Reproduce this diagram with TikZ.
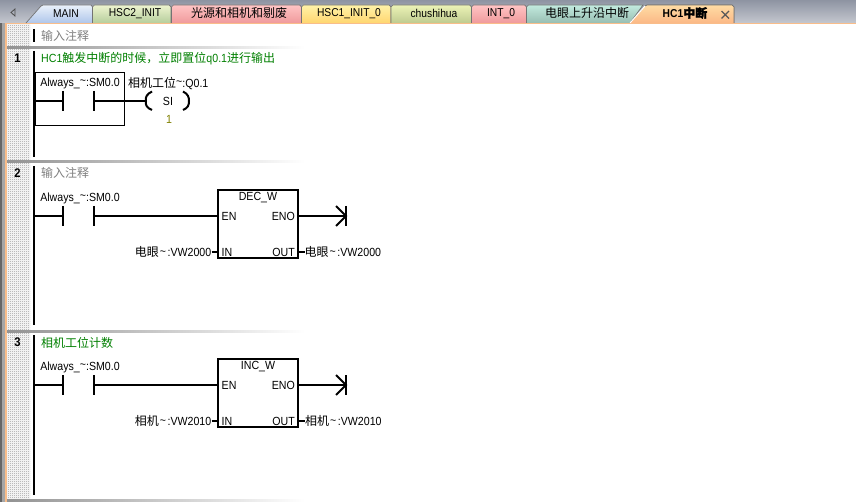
\documentclass[tikz,border=0pt]{standalone}
\usepackage{fontspec}
\setmainfont[FakeStretch=0.9]{Liberation Sans}
\newfontfamily\cjk{Noto Sans CJK SC}
\usetikzlibrary{positioning,patterns}
\pgfdeclarepatternformonly{dithertile}{\pgfqpoint{0pt}{0pt}}{\pgfqpoint{2pt}{2pt}}{\pgfqpoint{2pt}{2pt}}{
  \pgfpathrectangle{\pgfqpoint{0pt}{0pt}}{\pgfqpoint{1pt}{1pt}}
  \pgfpathrectangle{\pgfqpoint{1pt}{1pt}}{\pgfqpoint{1pt}{1pt}}
  \pgfusepath{fill}
}
\definecolor{barT}{HTML}{8E94A2}
\definecolor{barB}{HTML}{C4C7CF}
\definecolor{edgeO}{HTML}{F9BD8A}
\definecolor{dither}{HTML}{989898}
\definecolor{cmtG}{HTML}{808080}
\definecolor{cmtC}{HTML}{008000}
\definecolor{oliveV}{HTML}{808000}
\definecolor{mainT}{HTML}{EAF1FB}\definecolor{mainB}{HTML}{AFC6EA}
\definecolor{hscT}{HTML}{EDF3CF}\definecolor{hscB}{HTML}{B6CE9C}
\definecolor{redT}{HTML}{FFC4C4}\definecolor{redB}{HTML}{F09A9C}
\definecolor{yelT}{HTML}{FFF2A8}\definecolor{yelB}{HTML}{FFD670}
\definecolor{chuT}{HTML}{ECF3B6}\definecolor{chuB}{HTML}{BFCB90}
\definecolor{tealT}{HTML}{C2EADE}\definecolor{tealB}{HTML}{98BEB2}
\definecolor{hcT}{HTML}{FFDCA4}\definecolor{hcB}{HTML}{FBB886}
\tikzset{
  wire/.style={draw,line width=2pt},
  rail/.style={draw,line width=2pt},
  thin box/.style={draw,line width=1pt},
  tabedge/.style={draw=gray!90!black,line width=0.7pt},
  txt/.style={inner sep=0pt,font=\fontsize{11.8}{12}\selectfont},
  tabtxt/.style={inner sep=0pt,font=\fontsize{11.4}{12}\selectfont},
  label left/.style={txt,anchor=east},
  label right/.style={txt,anchor=west},
  fnbox/.style={draw,line width=2pt,minimum width=80pt,minimum height=68pt,inner sep=0pt},
  sepline/.style={left color=gray!85,right color=white,draw=none},
}
\newcommand{\cn}[1]{{\cjk\fontsize{12}{12}\selectfont #1}}
\newcommand{\tld}{\raisebox{1.5pt}{\textasciitilde}}
\begin{document}
\begin{tikzpicture}[x=1pt,y=-1pt]
    \useasboundingbox (0,0) rectangle (856,502);
    % window
    \fill[white] (0,0) rectangle (856,502);
    \fill[top color=barT,bottom color=barB] (0,0) rectangle (856,23);
    \fill[gray!80!black] (0,23) rectangle (2,502);
    \fill[gray!70] (2,23) rectangle (5,502);
    \fill[edgeO] (5,23) rectangle (7,502);
    \fill[pattern=dithertile,pattern color=dither] (7,25) rectangle (30,502);
    \fill[edgeO] (5,23) rectangle (856,24.5);
    \draw[gray!60!black,line width=0.8pt] (15,9) -- (11,12.5) -- (15,16) -- cycle;
    % tabs
    \foreach \xa/\xb/\ctop/\cbot in {92.5/171/hscT/hscB,171.5/301.5/redT/redB,301.5/391/yelT/yelB,391/471.5/chuT/chuB,471.5/526.5/redT/redB}{
      \draw[tabedge,top color=\ctop,bottom color=\cbot] (\xa,23) -- (\xa,7) -- (\xa+2,5) -- (\xb-2,5) -- (\xb,7) -- (\xb,23);
    }
    \draw[tabedge,top color=mainT,bottom color=mainB] (26,23) -- (41,6) -- (43,5) -- (91,5) -- (92.5,7) -- (92.5,23);
    \draw[tabedge,top color=tealT,bottom color=tealB] (526.5,23) -- (526.5,7) -- (528.5,5) -- (643,5) -- (630,23);
    \fill[top color=hcT,bottom color=hcB] (630,23) -- (645,6) -- (647,5) -- (732,5) -- (734,7) -- (734,23) -- cycle;
    \draw[tabedge] (645,6) -- (647,5) -- (732,5) -- (734,7) -- (734,23);
    \draw[white,line width=1pt] (630,23) -- (645,6);
    \node[tabtxt] (tabmain) at (66,13.5) {MAIN};
    \node[tabtxt] (tabhsctwo) at (135,13.5) {HSC2\_INIT};
    \node[tabtxt] (tablight) at (239,13) {\cn{光源和相机和剔废}};
    \node[tabtxt] (tabhscone) at (349,13.5) {HSC1\_INIT\_0};
    \node[tabtxt] (tabchu) at (434,13.5) {chushihua};
    \node[tabtxt] (tabint) at (501,13.5) {INT\_0};
    \node[tabtxt] (tabeye) at (587,13) {\cn{电眼上升沿中断}};
    \node[tabtxt,font=\fontsize{11.4}{12}\selectfont\bfseries] (tabhc) at (685,13) {HC1{\cjk\fontsize{12}{12}\selectfont\addfontfeature{FakeBold=1.5} 中断}};
    \coordinate (xa) at (721.5,11);
    \coordinate (xb) at (729,18.5);
    \coordinate (xc) at (729,11);
    \coordinate (xd) at (721.5,18.5);
    \draw[gray!70!black,line width=1.1pt] (xa) -- (xb) (xc) -- (xd);
    % separators
    \foreach \y in {46.5,161,330,499}{
      \fill[sepline] (7,\y) rectangle (305,\y+2);
    }
    % comments and numbers
    \fill (33,29) rectangle (35,42);
    \node[label right,text=cmtG] (cmttop) at (41,36) {\cn{输入注释}};
    \node[txt,font=\fontsize{12.5}{12}\selectfont\bfseries] (numone) at (17.5,58) {1};
    \node[txt,font=\fontsize{12.5}{12}\selectfont\bfseries] (numtwo) at (17.5,173) {2};
    \node[txt,font=\fontsize{12.5}{12}\selectfont\bfseries] (numthree) at (17.5,342) {3};
    \node[label right,text=cmtC] (cmtone) at (41,59) {HC1\cn{触发中断的时候，立即置位}q0.1\cn{进行输出}};
    \node[label right,text=cmtG] (cmttwo) at (41,173) {\cn{输入注释}};
    \node[label right,text=cmtC] (cmtthree) at (41,343) {\cn{相机工位计数}};
    % rails
    \coordinate (railA) at (34,51);
    \coordinate (railB) at (34,157);
    \coordinate (railC) at (34,166);
    \coordinate (railD) at (34,325);
    \coordinate (railE) at (34,335);
    \coordinate (railF) at (34,495);
    \draw[rail] (railA) -- (railB);
    \draw[rail] (railC) -- (railD);
    \draw[rail] (railE) -- (railF);
    % network 1
    \node[thin box,minimum width=89pt,minimum height=53pt,inner sep=0pt] (selbox) at (80,99.5) {};
    \node[txt] (smone) at (80,83) {Always\_\tld:SM0.0};
    \node[label right] (coilname) at (128,83.5) {\cn{相机工位}\tld:Q0.1};
    \node[txt] (coil) at (168,101) {SI};
    \node[txt,text=oliveV] (coilval) at (169,119) {1};
    \coordinate (wa) at (35,101);
    \coordinate (wb) at (63,101);
    \coordinate (wc) at (94,101);
    \coordinate (wd) at (146,101);
    \draw[wire] (wa) -- (wb);
    \draw[wire] (wc) -- (wd);
    \draw[wire] (63,91) -- (63,111);
    \draw[wire] (94,91) -- (94,111);
    \draw[wire] (152,91.5) .. controls (147,94) and (145,97) .. (wd) .. controls (145,105) and (147,108) .. (152,110);
    \draw[wire] (183,91.5) .. controls (188,94) and (189,97) .. (189,101) .. controls (189,105) and (188,108) .. (183,110);
    % network 2
    \node[fnbox] (dec) at (258,224) {};
    \node[txt] (dectitle) at (258,198) {DEC\_W};
    \node[label right] (decen) at (221.5,216.5) {EN};
    \node[label left] (deceno) at (295,216.5) {ENO};
    \node[label right] (decin) at (221.5,252) {IN};
    \node[label left] (decout) at (295,252) {OUT};
    \node[txt] (smtwo) at (80,198) {Always\_\tld:SM0.0};
    \node[label left] (decsrc) at (211.5,252) {\cn{电眼}\hspace{1pt}\tld\hspace{1.5pt}:VW2000};
    \node[label right] (decdst) at (304.5,252) {\cn{电眼}\hspace{1pt}\tld\hspace{1.5pt}:VW2000};
    \coordinate (ma) at (35,216);
    \coordinate (mb) at (63,216);
    \coordinate (mc) at (94,216);
    \coordinate (md) at (346,216);
    \draw[wire] (ma) -- (mb);
    \draw[wire] (mc) -- (dec.west |- mc);
    \draw[wire] (63,206) -- (63,226);
    \draw[wire] (94,206) -- (94,226);
    \draw[wire] (dec.east |- md) -- (md);
    \draw[wire] (346,206) -- (346,226);
    \draw[wire] (336,206) -- (md) -- (336,226);
    \draw[wire] (decsrc.east |- decin) -- (dec.west |- decin);
    \draw[wire] (dec.east |- decout) -- (decdst.west |- decout);
    % network 3
    \node[fnbox] (inc) at (258,393) {};
    \node[txt] (inctitle) at (258,367) {INC\_W};
    \node[label right] (incen) at (221.5,385.5) {EN};
    \node[label left] (inceno) at (295,385.5) {ENO};
    \node[label right] (incin) at (221.5,421) {IN};
    \node[label left] (incout) at (295,421) {OUT};
    \node[txt] (smthree) at (80,367) {Always\_\tld:SM0.0};
    \node[label left] (incsrc) at (211.5,421) {\cn{相机}\hspace{1pt}\tld\hspace{1.5pt}:VW2010};
    \node[label right] (incdst) at (305,421) {\cn{相机}\hspace{1pt}\tld\hspace{1.5pt}:VW2010};
    \coordinate (ya) at (35,385);
    \coordinate (yb) at (63,385);
    \coordinate (yc) at (94,385);
    \coordinate (yd) at (346,385);
    \draw[wire] (ya) -- (yb);
    \draw[wire] (yc) -- (inc.west |- yc);
    \draw[wire] (63,375) -- (63,395);
    \draw[wire] (94,375) -- (94,395);
    \draw[wire] (inc.east |- yd) -- (yd);
    \draw[wire] (346,375) -- (346,395);
    \draw[wire] (336,375) -- (yd) -- (336,395);
    \draw[wire] (incsrc.east |- incin) -- (inc.west |- incin);
    \draw[wire] (inc.east |- incout) -- (incdst.west |- incout);
\end{tikzpicture}
\end{document}
